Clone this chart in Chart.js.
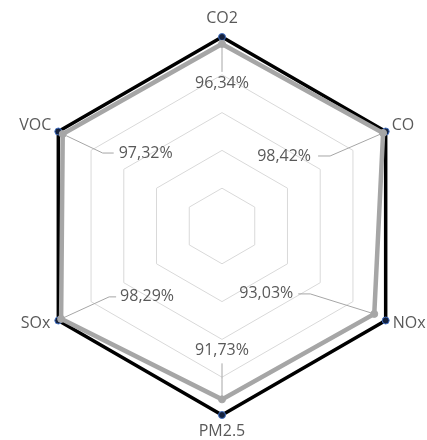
<!DOCTYPE html>
<html>
<head>
<meta charset="utf-8">
<script src="https://cdn.jsdelivr.net/npm/chart.js@4/dist/chart.umd.min.js"></script>
<style>
  html, body { margin: 0; padding: 0; background: #ffffff; }
  canvas { display: block; }
</style>
</head>
<body>
<canvas id="chart" width="427" height="440"></canvas>
<script>
// Pollutant axes, clockwise from the top
const categories = ['CO2', 'CO', 'NOx', 'PM2.5', 'SOx', 'VOC'];
// Reduction achieved per pollutant (%)
const reductionValues = [96.34, 98.42, 93.03, 91.73, 98.29, 97.32];
// Reference level (%)
const referenceValues = [100, 100, 100, 100, 100, 100];
// Radial scale
const scaleMin = 0;
const scaleMax = 100;
const scaleStep = 20;

const textColor = '#595959';
const fontFamily = '"Open Sans", "Liberation Sans", sans-serif';
const fontSize = 16;

// Axis-name placement around each vertex: [dx, dy, align, baseline]
const axisLabelPlacement = [
  [0, -11, 'center', 'bottom'],
  [6, -6, 'left', 'middle'],
  [7, 3, 'left', 'middle'],
  [0, 8, 'center', 'top'],
  [-8, 3, 'right', 'middle'],
  [-7, -6, 'right', 'middle']
];

// Value label callouts relative to the plotted point:
// text anchor [dx, dy, align], leader knee [dx, dy], leader end [dx, dy]
const valueLabelPlacement = [
  { text: [0, 40, 'center'], knee: [0, 12], end: [0, 28] },
  { text: [-72, 23, 'right'], knee: [-53, 23], end: [-65, 23] },
  { text: [-81, -20, 'right'], knee: [-64, -20], end: [-76, -20] },
  { text: [0, -49, 'center'], knee: [0, -20], end: [0, -36] },
  { text: [59, -22, 'left'], knee: [48, -22], end: [55, -22] },
  { text: [56, 19, 'left'], knee: [40, 19], end: [51, 19] }
];

const formatPct = v => v.toFixed(2).replace('.', ',') + '%';

const radarText = {
  id: 'radarText',
  afterDatasetsDraw(chart) {
    const scale = chart.scales.r;
    const ctx = chart.ctx;
    ctx.save();
    ctx.font = fontSize + 'px ' + fontFamily;
    ctx.fillStyle = textColor;

    // axis names
    categories.forEach((name, i) => {
      const p = scale.getPointPositionForValue(i, scaleMax);
      const [dx, dy, align, baseline] = axisLabelPlacement[i];
      ctx.textAlign = align;
      ctx.textBaseline = baseline;
      ctx.fillText(name, p.x + dx, p.y + dy);
    });

    // value callouts with leader lines
    const meta = chart.getDatasetMeta(0);
    reductionValues.forEach((v, i) => {
      const pt = meta.data[i];
      const pl = valueLabelPlacement[i];
      ctx.strokeStyle = '#a6a6a6';
      ctx.lineWidth = 1;
      ctx.beginPath();
      ctx.moveTo(pt.x, pt.y);
      ctx.lineTo(pt.x + pl.knee[0], pt.y + pl.knee[1]);
      ctx.lineTo(pt.x + pl.end[0], pt.y + pl.end[1]);
      ctx.stroke();
      ctx.textAlign = pl.text[2];
      ctx.textBaseline = 'middle';
      ctx.fillText(formatPct(v), pt.x + pl.text[0], pt.y + pl.text[1]);
    });
    ctx.restore();
  }
};

new Chart(document.getElementById('chart'), {
  type: 'radar',
  data: {
    labels: categories,
    datasets: [
      {
        label: 'Reduction',
        data: reductionValues,
        borderColor: '#a6a6a6',
        backgroundColor: 'transparent',
        borderWidth: 4.5,
        fill: false,
        pointRadius: 3.5,
        pointBackgroundColor: '#a6a6a6',
        pointBorderColor: '#a6a6a6',
        pointBorderWidth: 1
      },
      {
        label: 'Reference',
        data: referenceValues,
        borderColor: '#000000',
        backgroundColor: 'transparent',
        borderWidth: 3.5,
        fill: false,
        pointRadius: 3.5,
        pointBackgroundColor: '#14213d',
        pointBorderColor: '#4472c4',
        pointBorderWidth: 1
      }
    ]
  },
  options: {
    responsive: false,
    animation: false,
    layout: { padding: { left: 33, right: 16, top: 37, bottom: 25 } },
    plugins: {
      legend: { display: false },
      tooltip: { enabled: false }
    },
    scales: {
      r: {
        min: scaleMin,
        max: scaleMax,
        ticks: { display: false, stepSize: scaleStep },
        grid: { color: '#d9d9d9', lineWidth: 1 },
        angleLines: { display: false },
        pointLabels: { display: false }
      }
    }
  },
  plugins: [radarText]
});
</script>
</body>
</html>
